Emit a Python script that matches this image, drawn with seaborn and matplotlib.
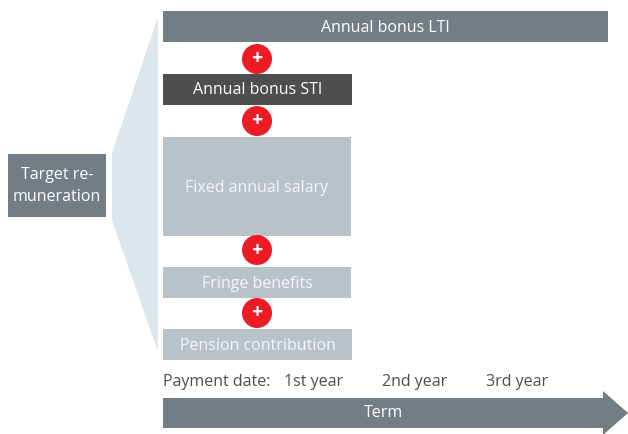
import matplotlib
matplotlib.use("Agg")
import matplotlib.pyplot as plt
import seaborn as sns
from matplotlib.patches import Polygon, Circle

# ---- data ----
components = ["Annual bonus LTI", "Annual bonus STI", "Fixed annual salary",
              "Fringe benefits", "Pension contribution"]
box_colors = ["#737d84", "#4d4e50", "#bac2c9", "#bac2c9", "#bac2c9"]
text_colors = ["white", "white", "#f4f6f7", "#f4f6f7", "#f4f6f7"]
bar_top = [11, 74, 137, 267, 329]
bar_height = [31, 31, 99, 31, 31]
bar_width = [445, 189, 188, 188, 189]
plus_y = [59, 121, 250, 313]
years = ["1st year", "2nd year", "3rd year"]
year_x = [314, 415, 517]

sns.set_theme(style="white")
plt.rcParams["font.family"] = ["Open Sans", "DejaVu Sans"]
FS = 11.5

fig = plt.figure(figsize=(6.28, 4.34), dpi=100)
ax = fig.add_axes([0, 0, 1, 1])
ax.set_xlim(0, 628)
ax.set_ylim(434, 0)
ax.axis("off")

# wedge behind the components
ax.add_patch(Polygon([(157, 20), (158, 20), (158, 352), (112, 220), (112, 153)],
                     closed=True, color="#dde6ec", lw=0, zorder=0))

# component bars
ax.barh([t + h / 2 for t, h in zip(bar_top, bar_height)], bar_width,
        height=bar_height, left=163, color=box_colors, linewidth=0, zorder=1)
for name, t, h, w, tc in zip(components, bar_top, bar_height, bar_width, text_colors):
    ax.text(163 + w / 2, t + h / 2 + 1, name, ha="center", va="center",
            color=tc, fontsize=FS, zorder=2)

# plus signs
for y in plus_y:
    ax.add_patch(Circle((257, y), 15, color="#ed1c24", lw=0, zorder=3))
    ax.text(257, y + 0.5, "+", ha="center", va="center", color="white",
            fontsize=14, fontweight="bold", zorder=4)

# target remuneration box
ax.barh([185.5], [98], height=63, left=8, color="#737d84", linewidth=0)
ax.text(57, 186, "Target re-\nmuneration", ha="center", va="center",
        color="white", fontsize=FS, linespacing=1.45)

# payment dates
ax.text(163, 382, "Payment date:", ha="left", va="center", color="#4d4e50", fontsize=FS)
for lbl, x in zip(years, year_x):
    ax.text(x, 382, lbl, ha="center", va="center", color="#4d4e50", fontsize=FS)

# term arrow
ax.add_patch(Polygon([(163, 398), (603, 398), (603, 391), (628, 413),
                      (603, 435), (603, 428), (163, 428)],
                     closed=True, color="#737d84", lw=0))
ax.text(383, 413, "Term", ha="center", va="center", color="white", fontsize=FS)

fig.savefig("out.png", dpi=100)
